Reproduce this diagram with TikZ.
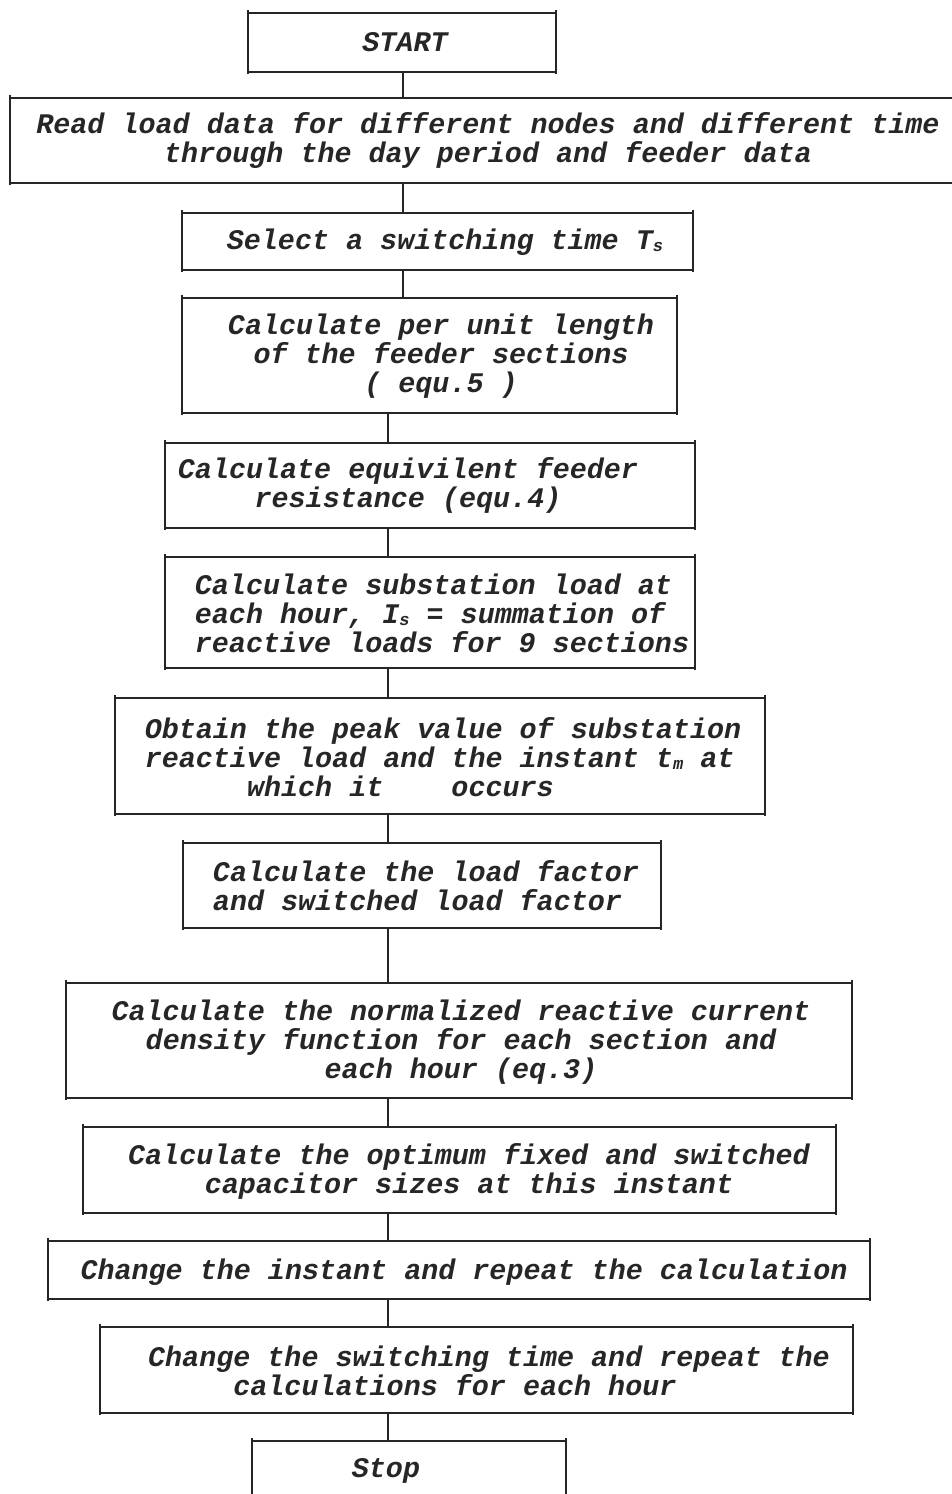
\documentclass[tikz,border=0pt]{standalone}
\usepackage{fontspec}
\newfontfamily\flowfont{Liberation Mono}
\usetikzlibrary{positioning}

\newcommand\lowidx[1]{\raisebox{-2pt}{\fontsize{17}{17}\selectfont #1}}
\newcommand\indentby[1]{\hspace*{#1\fontcharwd\font`a}}

\tikzset{
  stepbox/.style args={#1x#2}{minimum width=#1pt, minimum height=#2pt,
    inner sep=0pt, outer sep=0pt},
  txt/.style={font=\flowfont\bfseries\itshape\fontsize{28.4}{29}\selectfont,
    align=center, inner sep=0pt, text=black!85},
  txtl/.style={txt, align=left},
  hrule/.style={line width=2.6pt, black!85},
  vrule/.style={line width=1.5pt, black!85},
  link/.style={line width=1.8pt, black!85}
}

\begin{document}
\begin{tikzpicture}[x=1pt,y=-1pt]
\useasboundingbox (0,0) rectangle (952,1494);

% boxes
\node[stepbox=308x59]  (start)     at (402,42.5)   {};
\node[stepbox=952x85]  (read)      at (486,140.5)  {};
\node[stepbox=511x57]  (select)    at (437.5,241.5) {};
\node[stepbox=495x115] (perunit)   at (429.5,355.5) {};
\node[stepbox=530x85]  (equiv)     at (430,485.5)  {};
\node[stepbox=530x111] (subst)     at (430,612.5)  {};
\node[stepbox=650x116] (obtain)    at (440,756)    {};
\node[stepbox=478x85]  (loadf)     at (422,885.5)  {};
\node[stepbox=786x115] (norm)      at (459,1040.5) {};
\node[stepbox=753x86]  (optim)     at (459.5,1170) {};
\node[stepbox=822x58]  (instant)   at (459,1270)   {};
\node[stepbox=753x86]  (switching) at (476.5,1370) {};
\node[stepbox=314x59]  (stop)      at (409,1470.5) {};

\foreach \n in {start,read,select,perunit,equiv,subst,obtain,loadf,norm,optim,instant,switching,stop}
{
  \draw[hrule] (\n.north west) -- (\n.north east) (\n.south west) -- (\n.south east);
  \draw[vrule] ([yshift=3pt]\n.north west) -- ([yshift=-2pt]\n.south west)
               ([yshift=3pt]\n.north east) -- ([yshift=-2pt]\n.south east);
}

% texts
\node[txt]  (tstart)     at (405,42)   {START};
\node[txt]  (tread)      at (488,141)  {Read load data for different nodes and different time\\through the day period and feeder data};
\node[txt]  (tselect)    at (445,242)  {Select a switching time T\lowidx{s}};
\node[txt]  (tperunit)   at (441,356)  {Calculate per unit length\\of the feeder sections\\( equ.5 )};
\node[txt]  (tequiv)     at (408,485)  {Calculate equivilent feeder\\resistance (equ.4)};
\node[txtl] (tsubst)     at (442,613)  {Calculate substation load at\\each hour, I\lowidx{s} = summation of\\reactive loads for 9 sections};
\node[txtl] (tobtain)    at (443,757)  {Obtain the peak value of substation\\reactive load and the instant t\lowidx{m} at\\\indentby{6}which it\indentby{3} occurs};
\node[txtl] (tloadf)     at (426,886)  {Calculate the load factor\\and switched load factor};
\node[txt]  (tnorm)      at (461,1042) {Calculate the normalized reactive current\\density function for each section and\\each hour (eq.3)};
\node[txt]  (toptim)     at (469,1171) {Calculate the optimum fixed and switched\\capacitor sizes at this instant};
\node[txt]  (tinstant)   at (464,1272) {Change the instant and repeat the calculation};
\node[txtl] (tswitching) at (489,1371) {Change the switching time and repeat the\\\indentby{5}calculations for each hour};
\node[txt]  (tstop)      at (386,1471) {Stop};

% connectors
\coordinate (spineA) at (403,0);
\coordinate (spineB) at (388,0);
\foreach \a/\b/\s in {start/read/spineA, read/select/spineA, select/perunit/spineA,
  perunit/equiv/spineB, equiv/subst/spineB, subst/obtain/spineB, obtain/loadf/spineB,
  loadf/norm/spineB, norm/optim/spineB, optim/instant/spineB, instant/switching/spineB,
  switching/stop/spineB}
  \draw[link] (\a.south -| \s) -- (\b.north -| \s);
\end{tikzpicture}
\end{document}
